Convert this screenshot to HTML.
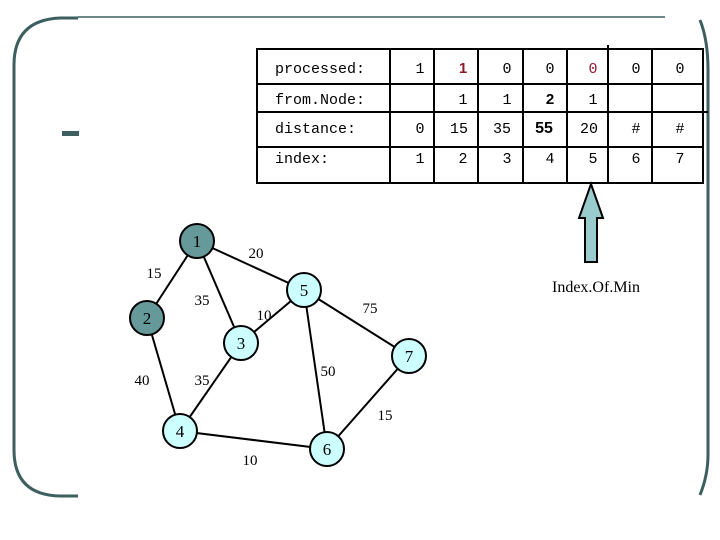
<!DOCTYPE html>
<html><head><style>
body{margin:0;width:720px;height:540px;background:#fff;overflow:hidden;position:relative}
svg{position:absolute;left:0;top:0}
</style></head><body>
<svg width="720" height="540" viewBox="0 0 720 540">
<g fill="none" stroke="#3d5f5f" stroke-width="3">
<path d="M78,18 L60,18 Q14,20 14,65 L14,450 Q14,495 60,496 L78,496"/>
<path d="M700,20 Q708,40 708,70 L708,455 Q708,475 700,495"/>
</g>
<line x1="78" y1="17" x2="665" y2="17" stroke="#3d5f5f" stroke-width="1.5"/>
<rect x="62" y="131" width="17" height="5" fill="#3d5f5f"/>
<g stroke="#000" stroke-width="2" fill="none">
<rect x="257" y="49" width="446" height="134"/>
<line x1="257" y1="84" x2="703" y2="84"/>
<line x1="257" y1="112" x2="708" y2="112"/>
<line x1="257" y1="147" x2="703" y2="147"/>
<line x1="390" y1="49" x2="390" y2="183"/>
<line x1="434" y1="49" x2="434" y2="183"/>
<line x1="478" y1="49" x2="478" y2="183"/>
<line x1="523" y1="49" x2="523" y2="183"/>
<line x1="567" y1="49" x2="567" y2="183"/>
<line x1="608" y1="45" x2="608" y2="183"/>
<line x1="652" y1="49" x2="652" y2="183"/>
</g>
<g font-family="Liberation Mono, monospace" font-size="15" fill="#000">
<text x="275" y="73">processed:</text>
<text x="275" y="104">from.Node:</text>
<text x="275" y="133">distance:</text>
<text x="275" y="163">index:</text>
</g>
<g font-family="Liberation Mono, monospace" font-size="15" fill="#000" text-anchor="middle">
<text x="420" y="73">1</text><text x="463" y="73" fill="#8b1a2e" font-weight="bold" font-family="Liberation Sans">1</text><text x="507" y="73">0</text><text x="550" y="73">0</text><text x="593" y="73" fill="#8b1a2e">0</text><text x="636" y="73">0</text><text x="680" y="73">0</text>
<text x="463" y="104">1</text><text x="507" y="104">1</text><text x="550" y="104" font-weight="bold" font-family="Liberation Sans">2</text><text x="593" y="104">1</text>
<text x="420" y="133">0</text><text x="459" y="133">15</text><text x="502" y="133">35</text><text x="544" y="133" font-weight="bold" font-family="Liberation Sans" font-size="16">55</text><text x="589" y="133">20</text><text x="636" y="133">#</text><text x="680" y="133">#</text>
<text x="420" y="163">1</text><text x="463" y="163">2</text><text x="507" y="163">3</text><text x="550" y="163">4</text><text x="593" y="163">5</text><text x="636" y="163">6</text><text x="680" y="163">7</text>
</g>
<path d="M591,184 L603,218 L597,218 L597,262 L585,262 L585,218 L579,218 Z" fill="#99cccc" stroke="#000" stroke-width="2"/>
<text x="596" y="292" font-family="Liberation Serif, serif" font-size="16" text-anchor="middle">Index.Of.Min</text>
<g stroke="#000" stroke-width="2">
<line x1="197" y1="241" x2="147" y2="318"/>
<line x1="197" y1="241" x2="304" y2="290"/>
<line x1="197" y1="241" x2="241" y2="343"/>
<line x1="147" y1="318" x2="180" y2="431"/>
<line x1="241" y1="343" x2="304" y2="290"/>
<line x1="241" y1="343" x2="180" y2="431"/>
<line x1="304" y1="290" x2="409" y2="356"/>
<line x1="304" y1="290" x2="327" y2="449"/>
<line x1="180" y1="431" x2="327" y2="449"/>
<line x1="409" y1="356" x2="327" y2="449"/>
</g>
<g stroke="#000" stroke-width="2">
<circle cx="197" cy="241" r="17" fill="#669999"/>
<circle cx="147" cy="318" r="17" fill="#669999"/>
<circle cx="241" cy="343" r="17" fill="#ccffff"/>
<circle cx="180" cy="431" r="17" fill="#ccffff"/>
<circle cx="304" cy="290" r="17" fill="#ccffff"/>
<circle cx="327" cy="449" r="17" fill="#ccffff"/>
<circle cx="409" cy="356" r="17" fill="#ccffff"/>
</g>
<g font-family="Liberation Serif, serif" font-size="17" text-anchor="middle">
<text x="197" y="247">1</text><text x="147" y="324">2</text><text x="241" y="349">3</text><text x="180" y="437">4</text><text x="304" y="296">5</text><text x="327" y="455">6</text><text x="409" y="362">7</text>
</g>
<g font-family="Liberation Serif, serif" font-size="15" text-anchor="middle">
<text x="256" y="258">20</text><text x="154" y="278">15</text><text x="202" y="305">35</text><text x="264" y="320">10</text>
<text x="370" y="313">75</text><text x="142" y="385">40</text><text x="202" y="385">35</text><text x="328" y="376">50</text>
<text x="385" y="420">15</text><text x="250" y="465">10</text>
</g>
</svg>
</body></html>
